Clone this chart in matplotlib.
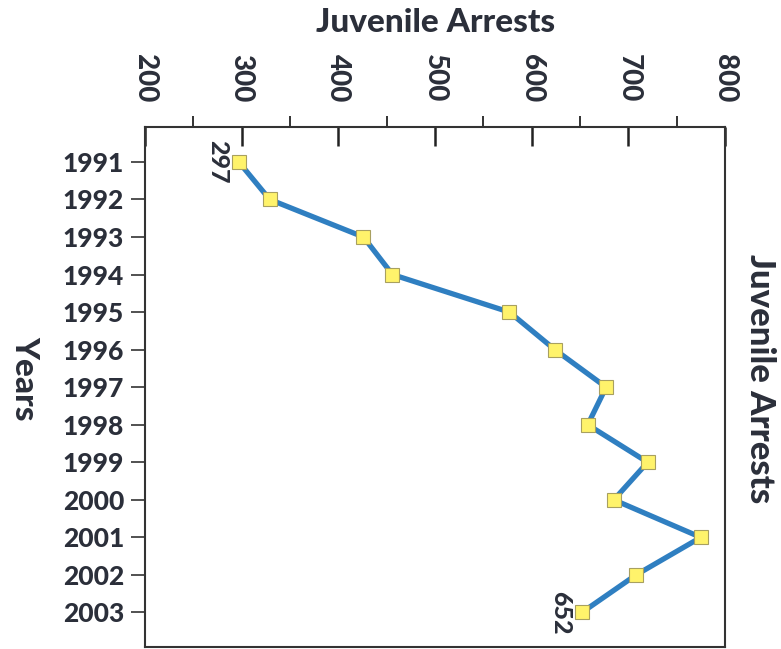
import matplotlib
matplotlib.use("Agg")
import matplotlib.pyplot as plt

years = [1991, 1992, 1993, 1994, 1995, 1996, 1997, 1998, 1999, 2000, 2001, 2002, 2003]
arrests = [297, 329, 426, 456, 577, 624, 677, 658, 720, 685, 775, 708, 652]
value_ticks = [200, 300, 400, 500, 600, 700, 800]
minor_ticks = [250, 350, 450, 550, 650, 750]

TXT = "#2b2f3a"
FONT = ["Lato", "DejaVu Sans"]
W = 900
plt.rcParams["font.family"] = FONT
plt.rcParams["font.weight"] = W

fig = plt.figure(figsize=(7.81, 6.49), dpi=100)
ax = fig.add_axes([145/781, 1-647/649, (725-145)/781, (647-127)/649])

ax.plot(arrests, years, color="#2f7fc1", lw=3.8, zorder=2,
        marker="s", ms=10, mfc="#fff36b", mec="#a8a060", mew=0.8)

ax.set_xlim(200, 800)
ax.set_ylim(2003.92, 1990.07)

ax.xaxis.set_ticks_position("top")
ax.set_xticks(value_ticks)
ax.set_xticks(minor_ticks, minor=True)
ax.set_xticklabels([str(v) for v in value_ticks], rotation=-90, fontsize=20,
                   fontweight=W, color=TXT, va="bottom", ha="center")
ax.tick_params(axis="x", which="major", direction="in", length=14, width=1.8,
               color="#222222", pad=18)
ax.tick_params(axis="x", which="minor", direction="out", length=8, width=1.4,
               color="#333333")

ax.set_yticks(years)
ax.set_yticklabels([str(y) for y in years], fontsize=19, fontweight=W, color=TXT)
ax.tick_params(axis="y", which="major", direction="out", length=10, width=1.2,
               pad=5, left=True, right=False, color="#333333")

for s in ax.spines.values():
    s.set_linewidth(1.5)
    s.set_color("#333333")

for i in (0, -1):
    ax.annotate(str(arrests[i]), (arrests[i], years[i]), xytext=(-7, 0),
                textcoords="offset points", rotation=-90, ha="right", va="center",
                fontsize=18, fontweight=W, fontstyle="normal", color=TXT)

fig.text(436/781, 1-22/649, "Juvenile Arrests", ha="center", va="center",
         fontsize=24, fontweight=W, color=TXT)
fig.text(760/781, 1-379/649, "Juvenile Arrests", ha="center", va="center",
         rotation=-90, fontsize=25, fontweight=W, color=TXT)
fig.text(25/781, 1-378/649, "Years", ha="center", va="center",
         rotation=-90, fontsize=24, fontweight=W, color=TXT)

fig.savefig("out.png", dpi=100)
